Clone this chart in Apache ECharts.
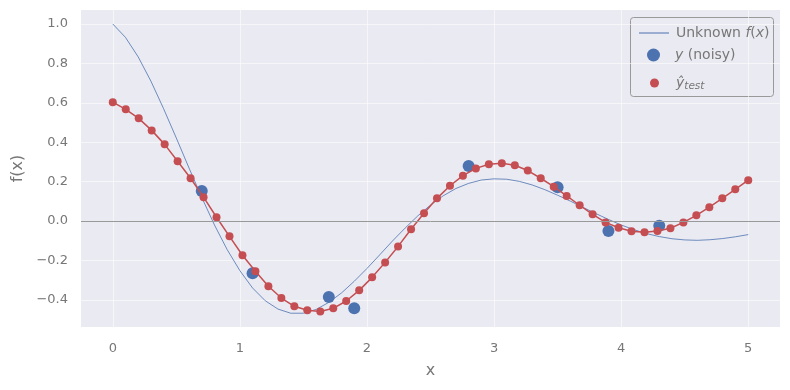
<!DOCTYPE html>
<html><head><meta charset="utf-8">
<script src="https://cdn.jsdelivr.net/npm/echarts@6/dist/echarts.min.js"></script>
<style>html,body{margin:0;padding:0;background:#fff}#c{width:790px;height:390px}</style>
</head><body><div id="c"></div>
<script>
// Unknown f(x) sampled at x = 0, 0.1, ..., 5.0
const fX = [0,0.1,0.2,0.3,0.4,0.5,0.6,0.7,0.8,0.9,1.0,1.1,1.2,1.3,1.4,1.5,1.6,1.7,1.8,1.9,2.0,2.1,2.2,2.3,2.4,2.5,2.6,2.7,2.8,2.9,3.0,3.1,3.2,3.3,3.4,3.5,3.6,3.7,3.8,3.9,4.0,4.1,4.2,4.3,4.4,4.5,4.6,4.7,4.8,4.9,5.0];
const fY = [1.000,0.932,0.833,0.710,0.570,0.421,0.269,0.120,-0.020,-0.145,-0.252,-0.340,-0.405,-0.447,-0.468,-0.468,-0.449,-0.413,-0.365,-0.306,-0.241,-0.172,-0.102,-0.036,0.026,0.081,0.128,0.165,0.191,0.208,0.214,0.212,0.201,0.183,0.159,0.131,0.101,0.069,0.038,0.008,-0.020,-0.044,-0.064,-0.079,-0.090,-0.096,-0.098,-0.095,-0.089,-0.080,-0.069];
// noisy observations
const noisyX = [0.70,1.10,1.70,1.90,2.80,3.50,3.90,4.30];
const noisyY = [0.152,-0.265,-0.386,-0.443,0.279,0.171,-0.051,-0.024];
// predictions on 50 test points in [0,5]
const testY = [0.603,0.567,0.521,0.460,0.389,0.303,0.217,0.121,0.019,-0.078,-0.174,-0.255,-0.331,-0.391,-0.433,-0.453,-0.459,-0.443,-0.406,-0.352,-0.286,-0.210,-0.129,-0.042,0.039,0.115,0.179,0.230,0.267,0.288,0.293,0.283,0.256,0.217,0.174,0.127,0.080,0.034,-0.007,-0.034,-0.052,-0.057,-0.051,-0.037,-0.007,0.029,0.070,0.115,0.161,0.207];
const testX = testY.map((_, i) => +(i * 5 / 49).toFixed(4));
const xTicks = [0,1,2,3,4,5];
const yTicks = [-0.4,-0.2,0.0,0.2,0.4,0.6,0.8,1.0];

const FONT = 'DejaVu Sans';
const TXT = '#777777';
const GRIDC = 'rgba(255,255,255,0.55)';
const chart = echarts.init(document.getElementById('c'));
const legendRich = {
  n: {fontFamily: FONT, fontSize: 14, color: TXT},
  i: {fontFamily: FONT, fontSize: 14, color: TXT, fontStyle: 'italic'},
  s: {fontFamily: FONT, fontSize: 10.5, color: TXT, fontStyle: 'italic', verticalAlign: 'bottom', padding: [6,0,0,0]}
};
chart.setOption({
  animation: false,
  backgroundColor: '#ffffff',
  grid: {left: 81, right: 10, top: 10, bottom: 63, show: true, backgroundColor: '#EAEAF2', borderWidth: 0},
  xAxis: {
    type: 'value', min: -0.25, max: 5.25,
    name: 'x', nameLocation: 'middle', nameGap: 36,
    nameTextStyle: {fontFamily: FONT, fontSize: 16, color: TXT},
    axisLine: {show: false},
    axisTick: {show: false, customValues: xTicks},
    axisLabel: {customValues: xTicks, fontFamily: FONT, fontSize: 13, color: TXT, margin: 15},
    splitLine: {show: true, lineStyle: {color: GRIDC, width: 1}}
  },
  yAxis: {
    type: 'value', min: -0.538, max: 1.071,
    name: 'f(x)', nameLocation: 'middle', nameGap: 55,
    nameTextStyle: {fontFamily: FONT, fontSize: 16, color: TXT},
    axisLine: {show: false},
    axisTick: {show: false, customValues: yTicks},
    axisLabel: {customValues: yTicks, fontFamily: FONT, fontSize: 13, color: TXT, margin: 13,
      formatter: v => (v < 0 ? '\u2212' + Math.abs(v).toFixed(1) : v.toFixed(1))},
    splitLine: {show: true, lineStyle: {color: GRIDC, width: 1}}
  },
  legend: [
    {data: [{name: 'Unknown f(x)', icon: 'path://M0,0L30,0L30,1L0,1Z'}], left: 634, top: 21, itemWidth: 30, itemHeight: 1, itemGap: 12,
      formatter: () => '{n|Unknown }{i|f}{n|(}{i|x}{n|)}', textStyle: {rich: legendRich, padding: [0,0,0,2]}, selectedMode: false},
    {data: [{name: 'y (noisy)', icon: 'circle'}], left: 642, top: 43, itemWidth: 13, itemHeight: 13, itemGap: 12,
      formatter: () => '{i|y}{n| (noisy)}', textStyle: {rich: legendRich, padding: [0,0,0,10]}, selectedMode: false},
    {data: [{name: 'y_test', icon: 'circle'}], left: 645, top: 71, itemWidth: 9, itemHeight: 9, itemGap: 12,
      formatter: () => '{i|\u0177}{s|test}', textStyle: {rich: legendRich, padding: [0,0,0,12]}, selectedMode: false}
  ],
  graphic: [{type: 'rect', left: 630, top: 17, shape: {width: 143, height: 79, r: 3}, z: 0, silent: true,
    style: {fill: '#EAEAF2', stroke: '#999999', lineWidth: 1}}],
  series: [
    {name: 'Unknown f(x)', type: 'line', data: fX.map((x, i) => [x, fY[i]]), symbol: 'none',
      lineStyle: {color: '#4C72B0', width: 0.8}, itemStyle: {color: '#4C72B0'}, z: 2,
      markLine: {silent: true, symbol: 'none', label: {show: false}, lineStyle: {color: '#999999', width: 1, type: 'solid'},
        data: [{yAxis: 0}]}},
    {name: 'y (noisy)', type: 'scatter', data: noisyX.map((x, i) => [x, noisyY[i]]), symbol: 'circle', symbolSize: 12,
      itemStyle: {color: '#4C72B0', opacity: 1}, z: 3},
    {name: 'y_test', type: 'line', data: testX.map((x, i) => [x, testY[i]]), symbol: 'circle', symbolSize: 8, showSymbol: true,
      lineStyle: {color: '#C44E52', width: 1.5}, itemStyle: {color: '#C44E52'}, z: 4}
  ]
});
</script></body></html>
